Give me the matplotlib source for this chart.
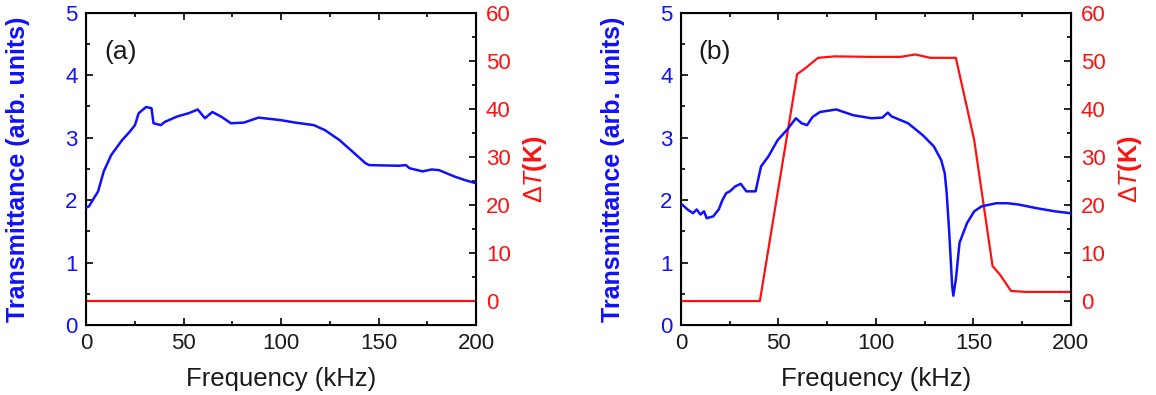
import numpy as np
import matplotlib.pyplot as plt
from matplotlib.ticker import MultipleLocator

plt.rcParams['font.family'] = ['Liberation Sans', 'DejaVu Sans']
plt.rcParams['mathtext.fontset'] = 'custom'
plt.rcParams['mathtext.rm'] = 'Liberation Sans'
plt.rcParams['mathtext.it'] = 'Liberation Sans:italic'

# panel (a): transmittance
fa = [0, 1.5, 6.2, 9.1, 12.9, 18.5, 22.3, 25.1, 27, 30.8, 33.6, 34.6, 38.4, 40.3, 46.9,
      52.6, 57.3, 61, 64.8, 69.6, 74.3, 80.9, 88.5, 99.8, 107.4, 116.8, 122.5, 130,
      137.6, 143.3, 145.2, 160.3, 164, 165.9, 172.6, 177.3, 181, 188.7, 194.3, 200]
ta = [1.88, 1.90, 2.14, 2.46, 2.72, 2.96, 3.09, 3.2, 3.39, 3.49, 3.47, 3.23, 3.2, 3.25, 3.34,
      3.39, 3.45, 3.31, 3.41, 3.33, 3.23, 3.24, 3.32, 3.28, 3.24, 3.2, 3.12, 2.96,
      2.75, 2.59, 2.56, 2.55, 2.56, 2.51, 2.46, 2.49, 2.48, 2.38, 2.32, 2.27]
# panel (a): temperature rise
fa_dt = [0, 200]
dta = [0, 0]

# panel (b): transmittance
fb = [0, 0.6, 3.4, 6.2, 8.1, 10, 11.9, 13.2, 16.6, 19.4, 21.3, 23.2, 25.1, 27.9, 30.7,
      33.6, 38.3, 41.1, 44.9, 49.6, 54.3, 59, 61.9, 64.7, 67.5, 71.3, 79.7, 88.2, 97.6,
      103.3, 106.1, 108, 116.5, 124, 129.7, 133.5, 135.3, 136.3, 137.6, 139.1, 139.7,
      141, 142.9, 146.7, 150.4, 154.2, 161.7, 167.4, 173, 182.5, 191.9, 200]
tb = [1.93, 1.93, 1.85, 1.79, 1.85, 1.77, 1.82, 1.71, 1.74, 1.85, 2.0, 2.11, 2.14, 2.22, 2.26,
      2.14, 2.14, 2.54, 2.70, 2.96, 3.12, 3.31, 3.23, 3.2, 3.33, 3.41, 3.45, 3.36, 3.31,
      3.32, 3.40, 3.34, 3.23, 3.04, 2.86, 2.64, 2.43, 2.11, 1.48, 0.63, 0.47,
      0.73, 1.32, 1.63, 1.82, 1.90, 1.95, 1.95, 1.93, 1.87, 1.82, 1.79]
# panel (b): temperature rise
fb_dt = [0, 40.5, 59.6, 63.7, 70.3, 78.8, 97.6, 112.7, 120.2, 127.8, 141, 150.4,
         159.8, 163.6, 169.3, 176.8, 200]
dtb = [0, 0, 47.2, 48.4, 50.6, 50.9, 50.8, 50.8, 51.3, 50.6, 50.6, 33.5,
       7.3, 5.5, 2.1, 1.9, 1.9]

blue = '#1010ff'
red = '#ff1010'
dark = '#1a1a1a'

fig = plt.figure(figsize=(11.56, 3.95), dpi=100)
panels = [(0.0744, fa, ta, fa_dt, dta, '(a)'), (0.589, fb, tb, fb_dt, dtb, '(b)')]

for left, f, t, fdt, dt, tag in panels:
    ax = fig.add_axes([left, 0.177, 0.3374, 0.791])
    ax2 = ax.twinx()
    ax.plot(f, t, color=blue, lw=1.8, zorder=3)
    ax2.plot(fdt, dt, color=red, lw=1.6)
    ax.set_zorder(ax2.get_zorder() + 1)
    ax.patch.set_visible(False)
    ax.set_xlim(0, 200)
    ax.set_ylim(0, 5)
    ax2.set_ylim(-5, 60)
    ax.xaxis.set_major_locator(MultipleLocator(50))
    ax.xaxis.set_minor_locator(MultipleLocator(25))
    ax.yaxis.set_major_locator(MultipleLocator(1))
    ax.yaxis.set_minor_locator(MultipleLocator(0.5))
    ax2.yaxis.set_major_locator(MultipleLocator(10))
    ax2.yaxis.set_minor_locator(MultipleLocator(5))
    ax2.set_yticks([0, 10, 20, 30, 40, 50, 60])
    ax.tick_params(which='both', direction='in', labelsize=16, width=1.2, top=True, pad=6)
    ax.tick_params(which='major', length=5)
    ax.tick_params(which='minor', length=3)
    ax.tick_params(axis='y', labelcolor=blue)
    ax.tick_params(axis='x', labelcolor=dark)
    ax2.tick_params(which='both', direction='in', labelsize=16, width=1.2, labelcolor=red, pad=7)
    ax2.tick_params(which='major', length=5)
    ax2.tick_params(which='minor', length=3)
    for s in ax2.spines.values():
        s.set_linewidth(1.5)
    ax.set_xlabel('Frequency (kHz)', fontsize=18.5, color=dark, va='top')
    ax.xaxis.set_label_coords(0.5, -0.135)
    ax.set_ylabel('Transmittance (arb. units)', fontsize=18, fontweight='bold', color=blue, va='center')
    ax.yaxis.set_label_coords(-0.175, 0.5)
    ax2.set_ylabel(r'$\Delta\mathit{T}$(K)', fontsize=18, fontweight='bold', color=red, va='center')
    ax2.yaxis.set_label_coords(1.152, 0.5)
    ax.text(0.046, 0.875, tag, transform=ax.transAxes, fontsize=19, ha='left', va='center', color=dark)

fig.savefig('out.png', dpi=100)
